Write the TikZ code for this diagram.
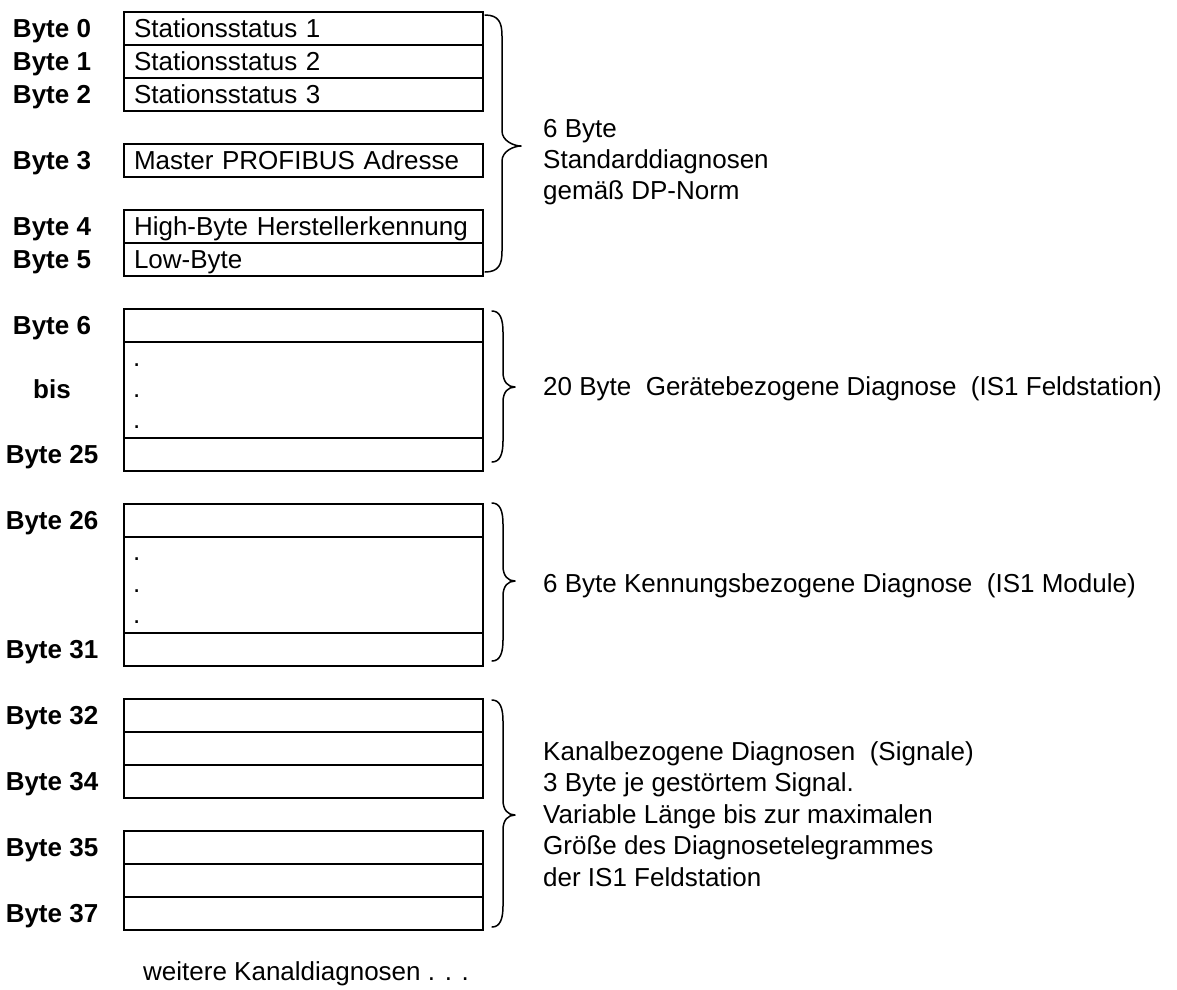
\documentclass[tikz,border=0pt]{standalone}
\usepackage{fontspec}
\setmainfont{Liberation Sans}
\newcommand\drawbrace[6]{% x0 xv xt ytop ytip ybot
  \draw[brc] (#1,#4) .. controls ({#2-3},#4) and (#2,{#4+8}) .. (#2,{#4+21})
    -- (#2,{#5-15}) .. controls (#2,{#5-5}) and ({#3-7},#5) .. (#3,#5)
    .. controls ({#3-7},#5) and (#2,{#5+5}) .. (#2,{#5+15})
    -- (#2,{#6-21}) .. controls (#2,{#6-8}) and ({#2-3},#6) .. (#1,#6);}
\begin{document}
\begin{tikzpicture}[x=1pt,y=-1pt,
  every node/.style={font=\fontsize{26}{31.5}\selectfont, inner sep=0pt},
  row/.style={draw, line width=2pt, minimum width=359pt, minimum height=33pt,
    anchor=north west, inner xsep=10pt, inner ysep=0pt, text width=339pt,
    text height=18.6pt, text depth=0pt, align=left},
  tall/.style={row, minimum height=96pt},
  lbl/.style={font=\fontsize{26}{31.5}\selectfont\bfseries, anchor=base},
  txt/.style={anchor=base west},
  brc/.style={line width=1.5pt, line cap=round, line join=round}]
\useasboundingbox (0,0) rectangle (1177,989);

% group 1
\node[row] (r0) at (123,11) {Stationsstatus 1};
\node[row] (r1) at (123,44) {Stationsstatus 2};
\node[row] (r2) at (123,77) {Stationsstatus 3};
\node[row] (r3) at (123,143) {Master PROFIBUS Adresse};
\node[row] (r4) at (123,209) {High-Byte Herstellerkennung};
\node[row] (r5) at (123,242) {Low-Byte};
\node[lbl] (l0) at (52,37) {Byte 0};
\node[lbl] (l1) at (52,70) {Byte 1};
\node[lbl] (l2) at (52,103) {Byte 2};
\node[lbl] (l3) at (52,169) {Byte 3};
\node[lbl] (l4) at (52,235) {Byte 4};
\node[lbl] (l5) at (52,268) {Byte 5};
\drawbrace{485}{502}{521}{15}{146}{272}
\node[txt] (t1a) at (543,137) {6 Byte};
\node[txt] (t1b) at (543,168) {Standarddiagnosen};
\node[txt] (t1c) at (543,199) {gemäß DP-Norm};

% group 2
\node[row] (r6) at (123,308) {};
\node[tall] (r6m) at (123,341) {};
\node[row] (r25) at (123,437) {};
\node[txt] (d1) at (133,366) {.};
\node[txt] (d2) at (133,397) {.};
\node[txt] (d3) at (133,428) {.};
\node[lbl] (l6) at (52,334) {Byte 6};
\node[lbl] (lbis) at (52,398) {bis};
\node[lbl] (l25) at (52,463) {Byte 25};
\drawbrace{492}{503}{515}{311}{387}{462}
\node[txt] (t2) at (543,395) {20 Byte\ \ Gerätebezogene Diagnose\ \ (IS1 Feldstation)};

% group 3
\node[row] (r26) at (123,503) {};
\node[tall] (r26m) at (123,536) {};
\node[row] (r31) at (123,632) {};
\node[txt] (e1) at (133,560) {.};
\node[txt] (e2) at (133,592) {.};
\node[txt] (e3) at (133,623) {.};
\node[lbl] (l26) at (52,529) {Byte 26};
\node[lbl] (l31) at (52,658) {Byte 31};
\drawbrace{492}{503}{515}{503}{581}{661}
\node[txt] (t3) at (543,592) {6 Byte Kennungsbezogene Diagnose\ \ (IS1 Module)};

% group 4
\node[row] (r32) at (123,698) {};
\node[row] (r33) at (123,731) {};
\node[row] (r34) at (123,764) {};
\node[row] (r35) at (123,830) {};
\node[row] (r36) at (123,863) {};
\node[row] (r37) at (123,896) {};
\node[lbl] (l32) at (52,724) {Byte 32};
\node[lbl] (l34) at (52,790) {Byte 34};
\node[lbl] (l35) at (52,856) {Byte 35};
\node[lbl] (l37) at (52,922) {Byte 37};
\drawbrace{492}{503}{515}{700}{815}{927}
\node[txt] (t4a) at (543,760) {Kanalbezogene Diagnosen\ \ (Signale)};
\node[txt] (t4b) at (543,791.5) {3 Byte je gestörtem Signal.};
\node[txt] (t4c) at (543,823) {Variable Länge bis zur maximalen};
\node[txt] (t4d) at (543,854.5) {Größe des Diagnosetelegrammes};
\node[txt] (t4e) at (543,886) {der IS1 Feldstation};

\node[txt] (more) at (143,980) {weitere Kanaldiagnosen . . .};
\end{tikzpicture}
\end{document}
